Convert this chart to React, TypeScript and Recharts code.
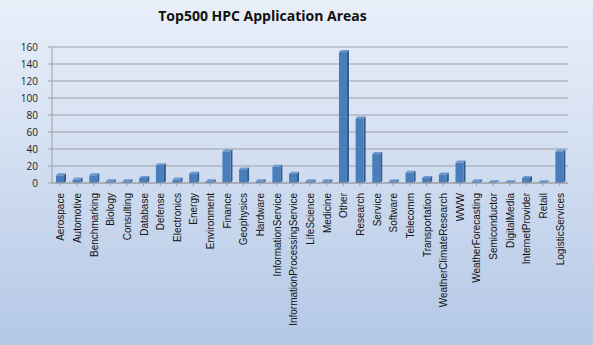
import { BarChart, Bar, XAxis, YAxis, CartesianGrid } from 'recharts'

const areas = [
  'Aerospace', 'Automotive', 'Benchmarking', 'Biology', 'Consulting', 'Database', 'Defense',
  'Electronics', 'Energy', 'Environment', 'Finance', 'Geophysics', 'Hardware',
  'InformationService', 'InformationProcessingService', 'LifeScience', 'Medicine', 'Other',
  'Research', 'Service', 'Software', 'Telecomm', 'Transportation', 'WeatherClimateResearch',
  'WWW', 'WeatherForecasting', 'Semiconductor', 'DigitalMedia', 'InternetProvider', 'Retail',
  'LogisticServices',
]

const systems = [
  9, 4, 9, 2, 2, 6, 21, 4, 11, 2, 37, 16, 2, 19, 11, 2, 2, 154, 76, 34, 2, 12, 6, 10, 24, 2, 1,
  1, 6, 1, 37,
]

const yTicks = [0, 20, 40, 60, 80, 100, 120, 140, 160]

const data = areas.map((area, i) => ({ area, count: systems[i] }))

function Bar3D({ x, y, width, height }: any) {
  if (height <= 0) return null
  const d = 2
  return (
    <g>
      <polygon
        points={`${x},${y} ${x + d},${y - d} ${x + width + d},${y - d} ${x + width},${y}`}
        fill="#6e97cf"
      />
      <polygon
        points={`${x + width},${y} ${x + width + d},${y - d} ${x + width + d},${y + height - d} ${x + width},${y + height}`}
        fill="#2f5a8e"
      />
      <rect x={x} y={y} width={width} height={height} fill="#4a7ebb" />
    </g>
  )
}

function AreaTick({ x, y, payload }: any) {
  return (
    <text
      x={x + 4}
      y={y + 5}
      transform={`rotate(-90 ${x + 4} ${y + 5})`}
      textAnchor="end"
      fontSize={10}
      fontFamily="Liberation Sans, Arial, sans-serif"
      fill="#111"
    >
      {payload.value}
    </text>
  )
}

function CountTick({ x, y, payload }: any) {
  return (
    <text
      x={x - 8}
      y={y + 4}
      textAnchor="end"
      fontSize={10}
      fontFamily="Open Sans, sans-serif"
      fill="#222"
    >
      {payload.value}
    </text>
  )
}

export default function App() {
  return (
    <div
      style={{
        position: 'absolute',
        left: 0,
        top: 0,
        width: 593,
        height: 345,
        background: 'linear-gradient(#e9eff9, #d3dff1 45%, #b3c7e6)',
      }}
    >
      <div
        style={{
          position: 'absolute',
          left: 0,
          top: 6,
          width: 525,
          textAlign: 'center',
          fontFamily: 'Open Sans, sans-serif',
          fontWeight: 700,
          fontSize: 14,
          color: '#111',
        }}
      >
        Top500 HPC Application Areas
      </div>
      <BarChart
        width={593}
        height={345}
        data={data}
        margin={{ top: 47, right: 25, bottom: 2, left: 8 }}
        barCategoryGap={0}
      >
        <CartesianGrid vertical={false} stroke="#9c9fa6" />
        <YAxis
          domain={[0, 160]}
          ticks={yTicks}
          interval={0}
          width={44}
          axisLine={{ stroke: '#9c9fa6' }}
          tickLine={{ stroke: '#9c9fa6' }}
          tickSize={4}
          tick={<CountTick />}
        />
        <XAxis
          dataKey="area"
          interval={0}
          height={160}
          axisLine={{ stroke: '#9c9fa6' }}
          tickLine={{ stroke: '#9c9fa6' }}
          tickSize={3}
          tick={<AreaTick />}
        />
        <Bar dataKey="count" barSize={8} shape={<Bar3D />} isAnimationActive={false} />
      </BarChart>
    </div>
  )
}
